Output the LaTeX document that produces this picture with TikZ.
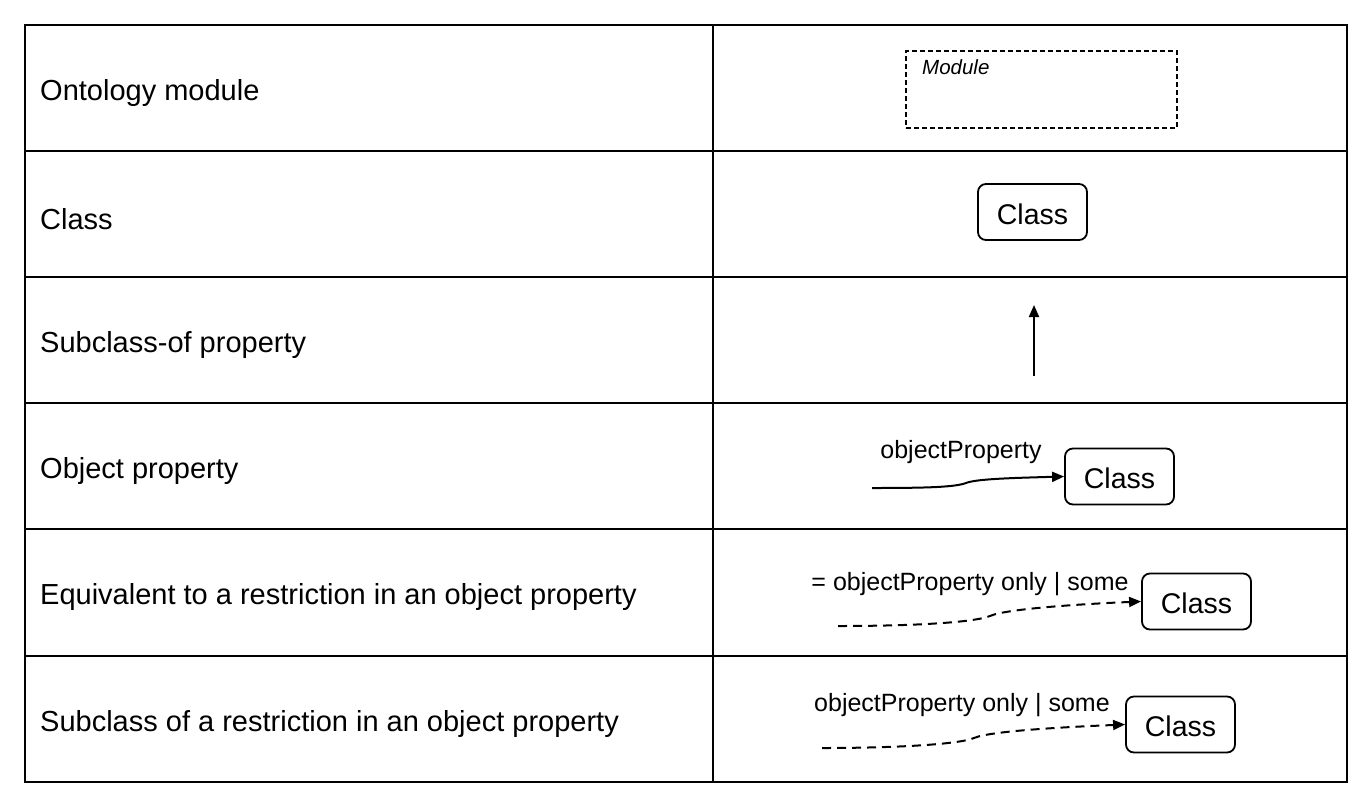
\documentclass[tikz,border=0pt]{standalone}
\usepackage{fontspec}
\setmainfont{Liberation Sans}
\usetikzlibrary{arrows.meta}
\begin{document}
\begin{tikzpicture}[x=1pt,y=-1pt,
  grid/.style={line width=2pt},
  main/.style={font=\fontsize{29}{33}\selectfont, inner sep=0pt},
  lbl/.style={font=\fontsize{25}{29}\selectfont, inner sep=0pt},
  classbox/.style={draw, line width=1.8pt, rounded corners=8pt, minimum width=109pt, minimum height=56pt, font=\fontsize{28.5}{32}\selectfont, inner sep=0pt, text height=24pt, text depth=0pt},
  modbox/.style={draw, line width=1.8pt, dash pattern=on 5pt off 3pt, minimum width=271pt, minimum height=77pt, inner sep=0pt},
  conn/.style={line width=2pt, -{Triangle[length=12pt,width=10pt]}},
  dconn/.style={conn, dash pattern=on 9pt off 6pt}
]
\useasboundingbox (0,0) rectangle (1371,807);
\fill[white] (0,0) rectangle (1371,807);
% table
\draw[grid] (25,25) rectangle (1347,782);
\draw[grid] (713,25) -- (713,782);
\foreach \yy in {151,277,403,529,656} \draw[grid] (25,\yy) -- (1347,\yy);
% left texts
\node[main, anchor=west] (t1) at (40,93) {Ontology module};
\node[main, anchor=west] (t2) at (40,219) {Class};
\node[main, anchor=west] (t3) at (40,345) {Subclass-of property};
\node[main, anchor=west] (t4) at (40,471) {Object property};
\node[main, anchor=west] (t5) at (40,597) {Equivalent to a restriction in an object property};
\node[main, anchor=west] (t6) at (40,724) {Subclass of a restriction in an object property};
% row 1
\node[modbox] (mod) at (1041.5,89.5) {};
\node[font=\fontsize{20.5}{24}\selectfont\itshape, inner sep=0pt, anchor=west] (modt) at (922,67) {Module};
% row 2
\node[classbox] (c2) at (1032.5,212) {Class};
% row 3
\coordinate (a3s) at (1034,376);
\coordinate (a3e) at (1034,305);
\draw[conn] (a3s) -- (a3e);
% row 4
\node[classbox] (c4) at (1119.5,476.5) {Class};
\coordinate (s4) at (872,488);
\draw[conn] (s4) .. controls (930,488) and (955,487) .. (966,483) .. controls (976,479) and (1010,478) .. (c4.west);
\node[lbl] (l4) at (961,452) {objectProperty};
% row 5
\node[classbox] (c5) at (1196.5,601.5) {Class};
\coordinate (s5) at (838,626);
\draw[dconn] (s5) .. controls (920,626) and (975,622) .. (990,616) .. controls (1005,609) and (1080,604) .. (c5.west);
\node[lbl] (l5) at (970,584) {= objectProperty only | some};
% row 6
\node[classbox] (c6) at (1180.5,724.5) {Class};
\coordinate (s6) at (822,748);
\draw[dconn] (s6) .. controls (900,748) and (960,744) .. (974,738) .. controls (990,731) and (1065,727) .. (c6.west);
\node[lbl] (l6) at (962,705) {objectProperty only | some};
\end{tikzpicture}
\end{document}
